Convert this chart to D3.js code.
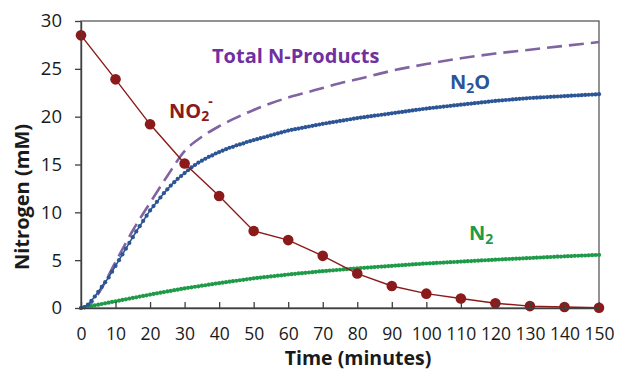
<!DOCTYPE html>
<html>
<head>
<meta charset="utf-8">
<script src="https://cdn.jsdelivr.net/npm/d3@7"></script>
<style>
  body { margin: 0; background: #fff; }
  svg { display: block; font-family: "Open Sans", sans-serif; }
  .tick text { fill: #1a1a1a; }
</style>
</head>
<body>
<div class="chart"></div>
<script>
// nitrite, measured every 10 minutes
var no2Time = [0, 10, 20, 30, 40, 50, 60, 70, 80, 90, 100, 110, 120, 130, 140, 150];
var no2Values = [28.5, 23.9, 19.2, 15.1, 11.7, 8.05, 7.1, 5.45, 3.6, 2.3, 1.5, 1.0, 0.5, 0.2, 0.1, 0.03];

// modelled curves, one point per minute
var minutes = d3.range(0, 151);
var n2oValues = [
  0, 0.1, 0.35, 0.75, 1.2, 1.7, 2.2, 2.7, 3.2, 3.8,
  4.4, 5.0, 5.6, 6.2, 6.8, 7.4, 8.0, 8.55, 9.1, 9.65,
  10.2, 10.65, 11.1, 11.55, 12.0, 12.4, 12.8, 13.15, 13.5, 13.8,
  14.1, 14.4, 14.7, 14.95, 15.2, 15.4, 15.6, 15.8, 15.95, 16.15,
  16.3, 16.45, 16.6, 16.75, 16.85, 17.0, 17.1, 17.2, 17.35, 17.45,
  17.55, 17.65, 17.75, 17.85, 17.95, 18.05, 18.15, 18.25, 18.35, 18.45,
  18.55, 18.62, 18.69, 18.76, 18.83, 18.9, 18.97, 19.04, 19.11, 19.18,
  19.25, 19.31, 19.37, 19.43, 19.49, 19.55, 19.61, 19.67, 19.73, 19.79,
  19.85, 19.9, 19.95, 20.0, 20.05, 20.1, 20.15, 20.2, 20.25, 20.3,
  20.35, 20.4, 20.45, 20.5, 20.55, 20.6, 20.65, 20.7, 20.75, 20.8,
  20.85, 20.89, 20.93, 20.97, 21.01, 21.05, 21.09, 21.13, 21.17, 21.21,
  21.25, 21.29, 21.33, 21.37, 21.41, 21.45, 21.49, 21.53, 21.57, 21.61,
  21.65, 21.68, 21.71, 21.74, 21.77, 21.8, 21.83, 21.86, 21.89, 21.92,
  21.95, 21.97, 21.99, 22.01, 22.03, 22.05, 22.07, 22.09, 22.11, 22.13,
  22.15, 22.17, 22.19, 22.21, 22.23, 22.25, 22.27, 22.29, 22.31, 22.33,
  22.35
];
var n2Values = [
  0, 0.07, 0.14, 0.21, 0.28, 0.35, 0.42, 0.49, 0.56, 0.63,
  0.70, 0.77, 0.84, 0.91, 0.98, 1.05, 1.12, 1.19, 1.26, 1.33,
  1.40, 1.47, 1.53, 1.60, 1.66, 1.73, 1.79, 1.86, 1.92, 1.99,
  2.05, 2.11, 2.16, 2.22, 2.27, 2.33, 2.38, 2.44, 2.49, 2.55,
  2.60, 2.65, 2.70, 2.75, 2.80, 2.85, 2.90, 2.95, 3.00, 3.05,
  3.10, 3.14, 3.18, 3.22, 3.26, 3.30, 3.34, 3.38, 3.42, 3.46,
  3.50, 3.54, 3.57, 3.61, 3.64, 3.68, 3.71, 3.75, 3.78, 3.82,
  3.85, 3.88, 3.91, 3.94, 3.97, 4.00, 4.03, 4.06, 4.09, 4.12,
  4.15, 4.18, 4.20, 4.23, 4.25, 4.28, 4.30, 4.33, 4.35, 4.38,
  4.40, 4.43, 4.45, 4.48, 4.50, 4.53, 4.55, 4.58, 4.60, 4.63,
  4.65, 4.67, 4.69, 4.71, 4.73, 4.75, 4.77, 4.79, 4.81, 4.83,
  4.85, 4.87, 4.89, 4.91, 4.93, 4.95, 4.97, 4.99, 5.01, 5.03,
  5.05, 5.07, 5.09, 5.10, 5.12, 5.14, 5.16, 5.17, 5.19, 5.21,
  5.22, 5.24, 5.26, 5.28, 5.30, 5.31, 5.33, 5.35, 5.37, 5.38,
  5.40, 5.42, 5.43, 5.45, 5.46, 5.48, 5.49, 5.51, 5.52, 5.54,
  5.55
];

// total N-products (dashed), read every 5 minutes
var totalTime = [0, 2, 5, 10, 15, 20, 25, 30, 35, 40, 45, 50, 55, 60, 65, 70, 75, 80, 90, 100, 110, 120, 130, 140, 150];
var totalValues = [0, 0.2, 1.5, 4.8, 8.1, 11.0, 13.8, 16.4, 17.9, 19.0, 19.9, 20.7, 21.4, 22.0, 22.5, 23.0, 23.5, 23.9, 24.8, 25.5, 26.1, 26.6, 27.0, 27.4, 27.8];

var xTicks = d3.range(0, 151, 10);
var yTicks = [0, 5, 10, 15, 20, 25, 30];

var W = 617, H = 371;
var margin = { top: 21, right: 18, bottom: 63, left: 81 },
    width = W - margin.left - margin.right,
    height = H - margin.top - margin.bottom;

var svg = d3.select(".chart").append("svg")
    .attr("width", W)
    .attr("height", H);

var g = svg.append("g")
    .attr("transform", "translate(" + margin.left + "," + margin.top + ")");

var x = d3.scaleLinear().domain([0, 150]).range([0, width]);
var y = d3.scaleLinear().domain([0, 30]).range([height, 0]);

// plot frame
g.append("rect")
    .attr("width", width)
    .attr("height", height)
    .attr("fill", "none")
    .attr("stroke", "#5a5a5a")
    .attr("stroke-width", 1.3);

var pairs = function(xs, ys) {
  return xs.map(function(t, i) { return { t: t, v: ys[i] }; });
};

var line = d3.line()
    .x(function(d) { return x(d.t); })
    .y(function(d) { return y(d.v); });

// dashed total
g.append("path")
    .datum(pairs(totalTime, totalValues))
    .attr("fill", "none")
    .attr("stroke", "#8064a2")
    .attr("stroke-width", 2.6)
    .attr("stroke-dasharray", "15,7")
    .attr("d", line.curve(d3.curveMonotoneX));

line.curve(d3.curveLinear);

function dotted(values, color) {
  var data = pairs(minutes, values);
  g.append("path")
      .datum(data)
      .attr("fill", "none")
      .attr("stroke", color)
      .attr("stroke-width", 1.6)
      .attr("d", line);
  g.append("g").selectAll("circle")
      .data(data)
      .enter().append("circle")
      .attr("cx", function(d) { return x(d.t); })
      .attr("cy", function(d) { return y(d.v); })
      .attr("r", 2.1)
      .attr("fill", color);
}

dotted(n2Values, "#1f9a48");
dotted(n2oValues, "#2c5596");

// nitrite
var no2 = pairs(no2Time, no2Values);
g.append("path")
    .datum(no2)
    .attr("fill", "none")
    .attr("stroke", "#8b1a1a")
    .attr("stroke-width", 1.4)
    .attr("d", line);
g.selectAll(".dot")
    .data(no2)
    .enter().append("circle")
    .attr("class", "dot")
    .attr("cx", function(d) { return x(d.t); })
    .attr("cy", function(d) { return y(d.v); })
    .attr("r", 5.3)
    .attr("fill", "#8b1a1a");

// axes
var xAxis = d3.axisBottom(x).tickValues(xTicks).tickSizeInner(-6).tickSizeOuter(0).tickPadding(20);
var yAxis = d3.axisLeft(y).tickValues(yTicks).tickSizeInner(6).tickSizeOuter(0).tickPadding(13);

var gx = g.append("g")
    .attr("transform", "translate(0," + height + ")")
    .call(xAxis);
var gy = g.append("g").call(yAxis);

[gx, gy].forEach(function(a) {
  a.attr("font-family", "Open Sans, sans-serif");
  a.select(".domain").attr("stroke", "#404040").attr("stroke-width", 1.4);
  a.selectAll(".tick line").attr("stroke", "#404040").attr("stroke-width", 1.3);
});
gx.attr("font-size", 17.5);
gy.attr("font-size", 18.5);

// axis titles
svg.append("text")
    .attr("x", 358)
    .attr("y", 365)
    .attr("text-anchor", "middle")
    .attr("font-size", 19.5)
    .attr("font-weight", "bold")
    .attr("fill", "#1a1a1a")
    .text("Time (minutes)");

svg.append("text")
    .attr("transform", "translate(29,197) rotate(-90)")
    .attr("text-anchor", "middle")
    .attr("font-size", 20)
    .attr("font-weight", "bold")
    .attr("fill", "#1a1a1a")
    .text("Nitrogen (mM)");

// series labels
svg.append("text")
    .attr("x", 212)
    .attr("y", 63)
    .attr("font-size", 20)
    .attr("font-weight", "bold")
    .attr("fill", "#7030a0")
    .text("Total N-Products");

var lblNo2 = svg.append("text")
    .attr("x", 169)
    .attr("y", 118)
    .attr("font-size", 20)
    .attr("font-weight", "bold")
    .attr("fill", "#8b1a1a");
lblNo2.append("tspan").text("NO");
lblNo2.append("tspan").attr("font-size", 14).attr("dy", 3).text("2");
lblNo2.append("tspan").attr("font-size", 14).attr("dy", -15).attr("dx", -1).text("-");

var lblN2o = svg.append("text")
    .attr("x", 450)
    .attr("y", 89)
    .attr("font-size", 20)
    .attr("font-weight", "bold")
    .attr("fill", "#2c5596");
lblN2o.append("tspan").text("N");
lblN2o.append("tspan").attr("font-size", 14).attr("dy", 4).text("2");
lblN2o.append("tspan").attr("dy", -4).text("O");

var lblN2 = svg.append("text")
    .attr("x", 469)
    .attr("y", 240)
    .attr("font-size", 20)
    .attr("font-weight", "bold")
    .attr("fill", "#1f9a48");
lblN2.append("tspan").text("N");
lblN2.append("tspan").attr("font-size", 14).attr("dy", 4).text("2");
</script>
</body>
</html>
